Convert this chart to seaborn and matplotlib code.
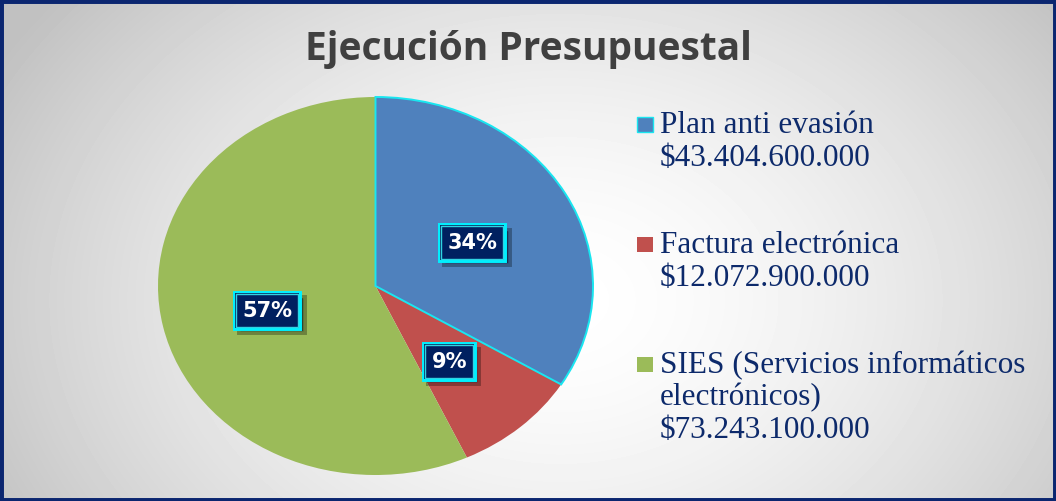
import matplotlib
matplotlib.use("Agg")
import matplotlib.pyplot as plt
import matplotlib.patches as mpatches
import matplotlib.patheffects as pe
import numpy as np
import seaborn as sns

titulo = "Ejecución Presupuestal"
rubros = ["Plan anti evasión", "Factura electrónica",
          "SIES (Servicios informáticos\nelectrónicos)"]
montos = [43404600000, 12072900000, 73243100000]
colores = ["#4f81bd", "#c0504d", "#9bbb59"]

sns.set_theme(style="white")
plt.rcParams["font.family"] = ["DejaVu Sans"]

W, H = 1056, 501
fig = plt.figure(figsize=(W / 100, H / 100), dpi=100)

# fondo con degradado radial
bg = fig.add_axes([0, 0, 1, 1], zorder=0)
yy, xx = np.mgrid[0:H, 0:W]
r = np.sqrt(((xx - 560) / 560.0) ** 2 + ((yy - 300) / 420.0) ** 2)
g = (255 - 62 * np.clip(r / 1.15, 0, 1) ** 1.6) / 255.0
bg.imshow(g, cmap="gray", vmin=0, vmax=1, aspect="auto", interpolation="bilinear")
bg.axis("off")

# pastel (eliptico)
cx, cy, rx, ry, L = 375.5, 286, 217.5, 189, 1.03
ax = fig.add_axes([(cx - rx * L) / W, 1 - (cy + ry * L) / H, 2 * rx * L / W, 2 * ry * L / H], zorder=1)
ax.patch.set_alpha(0)
fs_pct = 15
wedges, _, autotexts = ax.pie(montos, colors=colores, startangle=90, counterclock=False,
                              autopct="%.0f%%", pctdistance=0.51,
                              wedgeprops=dict(linewidth=0),
                              textprops=dict(color="white", fontsize=fs_pct, fontweight="bold"))
ax.set_aspect("auto")
ax.set_xlim(-L, L)
ax.set_ylim(-L, L)
wedges[0].set_edgecolor("#19e6f0")
wedges[0].set_linewidth(1.4)
wedges[0].set_zorder(3)

# cajas de porcentaje: borde doble cian y sombra
for t in autotexts:
    x, y = t.get_position()
    t.set_position((x, y - 0.02))
    t.set_zorder(7)
    t.set_bbox(dict(boxstyle="square,pad=0.3", fc="#002060", ec="#2fd3e3", lw=1))
    t.get_bbox_patch().set_path_effects([
        pe.Stroke(offset=(3, -3), linewidth=5, foreground="black", alpha=0.3),
        pe.SimplePatchShadow(offset=(3, -3), shadow_rgbFace="black", alpha=0.3),
        pe.Stroke(linewidth=5, foreground="#00f0ff"),
        pe.Stroke(linewidth=1.4, foreground="#0a2a5e"),
        pe.Normal(),
    ])

# leyenda
for i, (nombre, valor) in enumerate(zip(rubros, montos)):
    lineas = nombre.split("\n") + ["${:,.0f}".format(valor).replace(",", ".")]
    for k, linea in enumerate(lineas):
        fig.text(660 / W, 1 - (133 + 120 * i + 32.5 * k) / H, linea, ha="left", va="baseline",
                 fontfamily="Liberation Serif", fontsize=22.5, color="#0d2a6b")
    fig.patches.append(mpatches.Rectangle((637 / W, 1 - (132 + 120 * i) / H), 16 / W, 15 / H,
                                          transform=fig.transFigure, fc=colores[i],
                                          ec="#19e6f0" if i == 0 else "none", lw=1, zorder=3))

fig.text(528 / W, 1 - 60 / H, titulo, ha="center", va="baseline", fontfamily="Open Sans",
         fontweight="bold", fontsize=28, color="#404040")

fig.patches.append(mpatches.Rectangle((0, 0), 1, 1, transform=fig.transFigure, fill=False,
                                      ec="#0b2670", lw=5, zorder=10))

fig.savefig("out.png", dpi=100)
